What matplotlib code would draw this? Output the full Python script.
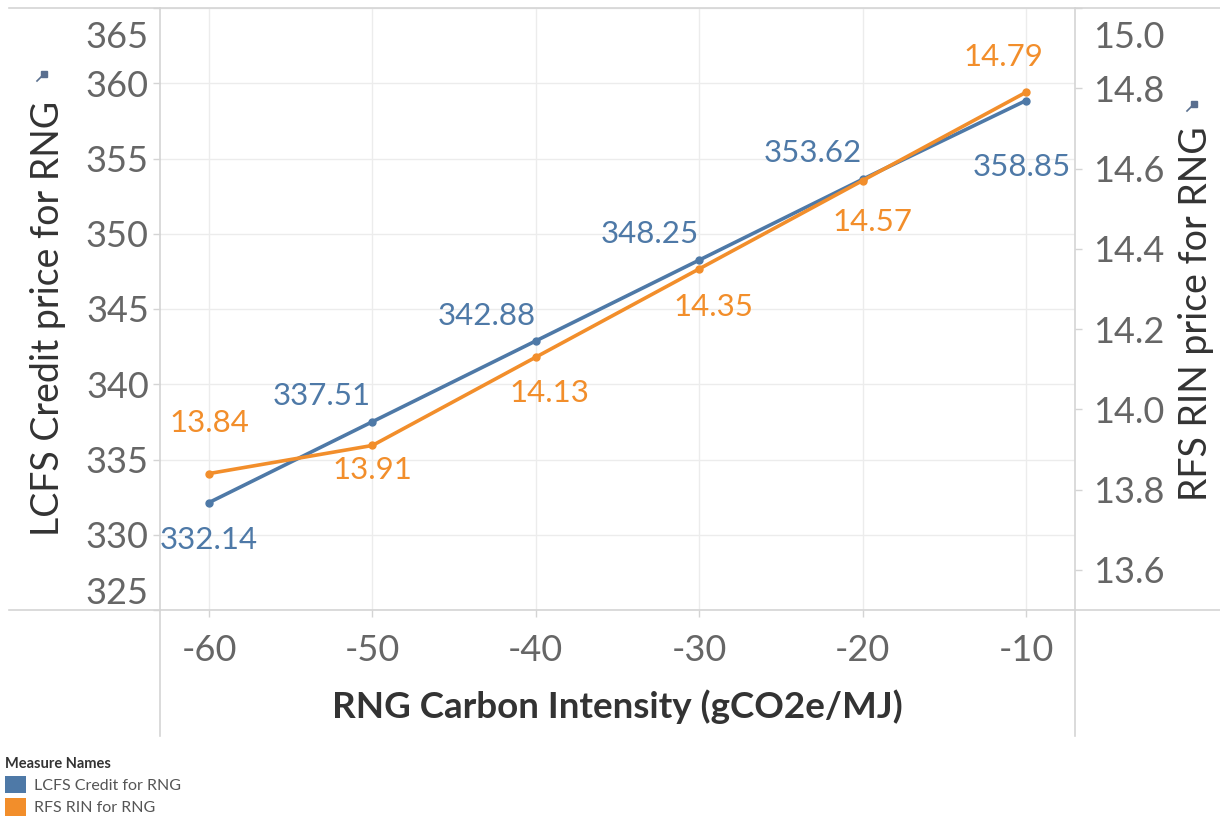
import matplotlib
matplotlib.use('Agg')
import matplotlib.pyplot as plt
from matplotlib.lines import Line2D
from matplotlib.patches import Patch
from matplotlib.transforms import ScaledTranslation

# ---- data ----
carbon_intensity = [-60, -50, -40, -30, -20, -10]
lcfs_credit = [332.14, 337.51, 342.88, 348.25, 353.62, 358.85]
rfs_rin = [13.84, 13.91, 14.13, 14.35, 14.57, 14.79]
left_ticks = [325, 330, 335, 340, 345, 350, 355, 360, 365]
right_ticks = [13.6, 13.8, 14.0, 14.2, 14.4, 14.6, 14.8, 15.0]
x_ticks = [-60, -50, -40, -30, -20, -10]
series_names = ["LCFS Credit for RNG", "RFS RIN for RNG"]

BLUE = '#4e79a7'
ORANGE = '#f28e2b'
TICK_C = '#666666'
GRID_C = '#ececec'
LINE_C = '#d4d4d4'
FONT = 'Lato'
plt.rcParams['font.family'] = [FONT, 'DejaVu Sans']

W, H = 1220, 817
fig = plt.figure(figsize=(W / 100, H / 100), dpi=100)


def fx(px):
    return px / W


def fy(py):
    return 1 - py / H


ax = fig.add_axes([fx(160), fy(610), (1075 - 160) / W, (610 - 8) / H])
ax2 = ax.twinx()

for a in (ax, ax2):
    for s in a.spines.values():
        s.set_visible(False)

ax.set_xlim(-63, -7)
ax.set_ylim(325, 365)
ax2.set_ylim(13.5, 15.0)

ax.set_xticks(x_ticks)
ax.set_yticks(left_ticks)
ax2.set_yticks(right_ticks)
ax.set_xticklabels([str(v) for v in x_ticks])
ax.set_yticklabels([str(v) for v in left_ticks])
ax2.set_yticklabels([f"{v:.1f}" for v in right_ticks])

ax.grid(True, color=GRID_C, lw=1.0)
ax.set_axisbelow(True)

ax.tick_params(axis='y', length=5, width=1, color=LINE_C, labelsize=26,
               labelcolor=TICK_C, pad=3)
ax.tick_params(axis='x', length=5, width=1, color=LINE_C, labelsize=26,
               labelcolor=TICK_C, pad=12)
ax2.tick_params(axis='y', length=5, width=1, color=LINE_C, labelsize=26,
                labelcolor=TICK_C, pad=8)

# shift extreme tick labels inward (as Tableau does)
def shift(lab, dy_px):
    lab.set_transform(lab.get_transform() +
                      ScaledTranslation(0, dy_px / 100, fig.dpi_scale_trans))

ylabs = ax.get_yticklabels()
shift(ylabs[0], 20)
shift(ylabs[-1], -27)
rlabs = ax2.get_yticklabels()
shift(rlabs[-1], -27)

# ---- lines ----
ax.plot(carbon_intensity, lcfs_credit, color=BLUE, lw=2.6, marker='o',
        markersize=5, solid_capstyle='round', zorder=3)
ax2.plot(carbon_intensity, rfs_rin, color=ORANGE, lw=2.6, marker='o',
         markersize=5, solid_capstyle='round', zorder=3)

# ---- data labels (pixel offsets) ----
blue_off = [(0, -37), (-51, 26), (-49, 25), (-49, 26), (-50, 26), (-4, -66)]
orange_off = [(0, 51), (0, -25), (14, -36), (14, -38), (10, -41), (-23, 35)]
for x, y, o in zip(carbon_intensity, lcfs_credit, blue_off):
    ax.annotate(f"{y:.2f}", (x, y), xytext=o, textcoords='offset pixels',
                ha='center', va='center', color=BLUE, fontsize=22.5,
                zorder=5, annotation_clip=False)
for x, y, o in zip(carbon_intensity, rfs_rin, orange_off):
    ax2.annotate(f"{y:.2f}", (x, y), xytext=o, textcoords='offset pixels',
                 ha='center', va='center', color=ORANGE, fontsize=22.5,
                 zorder=5, annotation_clip=False)

# ---- axis titles ----
fig.text(fx(48), fy(318), "LCFS Credit price for RNG", rotation=90,
         ha='center', va='center', fontsize=27, color='#333333')
fig.text(fx(1196), fy(314), "RFS RIN price for RNG", rotation=90,
         ha='center', va='center', fontsize=27, color='#333333')
fig.text(fx(617), fy(707), "RNG Carbon Intensity (gCO2e/MJ)",
         ha='center', va='center', fontsize=26.5, color='#333333',
         fontweight='bold')

# ---- frame lines ----
for (x0, y0, x1, y1) in [(9, 8, 1220, 8), (9, 610, 1220, 610),
                         (160, 8, 160, 736), (1075, 8, 1075, 736)]:
    fig.add_artist(Line2D([fx(x0), fx(x1)], [fy(y0), fy(y1)],
                          color=LINE_C, lw=1.2))

# ---- pin icons ----
for (px, py) in [(42, 76), (1192, 106)]:
    fig.add_artist(Line2D([fx(px - 5), fx(px + 1)], [fy(py + 5), fy(py - 1)],
                          color='#5a6f8f', lw=1.2))
    fig.add_artist(Line2D([fx(px + 2)], [fy(py - 2)], marker=(4, 0, 45),
                          markersize=6, color='#5a6f8f', lw=0))

# ---- legend ----
handles = [Patch(facecolor=BLUE, edgecolor='none'),
           Patch(facecolor=ORANGE, edgecolor='none')]
leg = fig.legend(handles, series_names, loc='upper left',
                 bbox_to_anchor=(fx(2), fy(754)), frameon=False,
                 title="Measure Names", fontsize=11.5, title_fontsize=10.5,
                 handlelength=1.3, handleheight=1.3, handletextpad=0.5,
                 labelspacing=0.3, borderaxespad=0, borderpad=0.2,
                 alignment='left')
leg.get_title().set_fontweight('bold')
leg.get_title().set_color('#333333')
for t in leg.get_texts():
    t.set_color('#555555')

fig.savefig('out.png', dpi=100, facecolor='white')
